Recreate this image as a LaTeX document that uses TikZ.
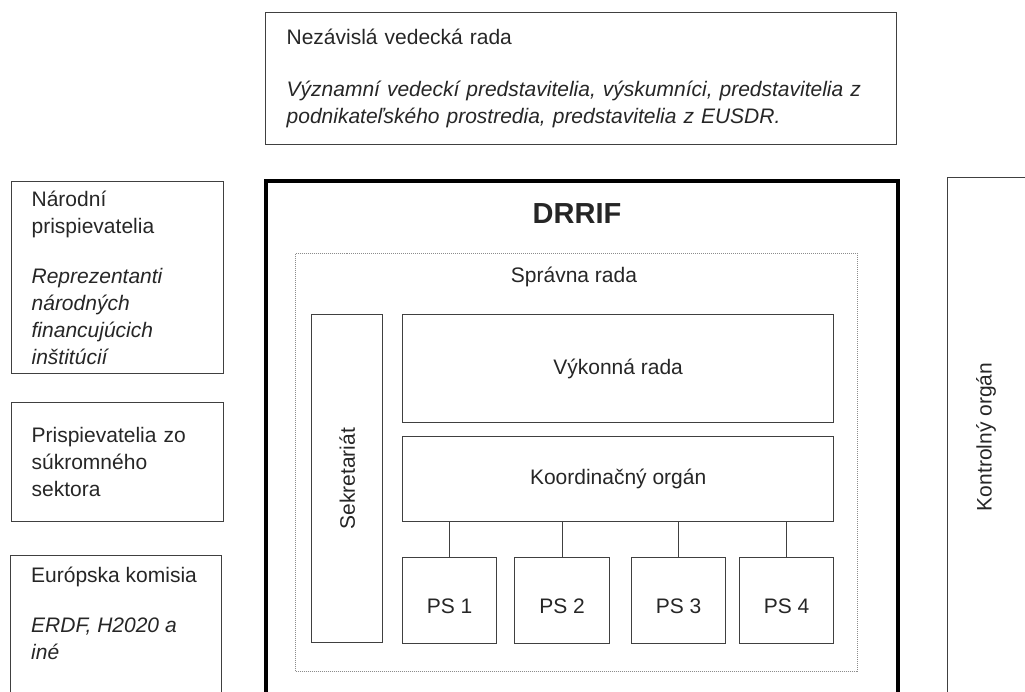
\documentclass[tikz,border=0pt]{standalone}
\usepackage{fontspec}
\setmainfont{Liberation Sans}
\usetikzlibrary{positioning}
\definecolor{ciara}{HTML}{404040}
\definecolor{pismo}{HTML}{262626}
\definecolor{bodky}{HTML}{8C8C8C}
\tikzset{
  every node/.style={
    text=pismo,
    inner sep=0pt,
    font=\fontsize{21}{27}\selectfont
  },
  ram/.style={draw=ciara, line width=1.3pt, anchor=north west},
  lavy/.style={ram, align=left, inner xsep=20pt, text width=172pt},
  stred/.style={ram, align=center},
  ps/.style={stred, minimum height=86pt, text height=25pt, text depth=0pt},
  spoj/.style={draw=ciara, line width=1.3pt}
}

\begin{document}
\begin{tikzpicture}[x=1pt,y=-1pt]
    \useasboundingbox (0,0) rectangle (1025,691);
    \clip (0,0) rectangle (1025,691);

    % vedecká rada
    \node[lavy, text width=589pt, inner xsep=21pt, minimum height=132pt] (rada) at (265,12)
      {Nezávislá vedecká rada\\[25pt]
       \textit{Významní vedeckí predstavitelia, výskumníci, predstavitelia z}\\
       \textit{podnikateľského prostredia, predstavitelia z EUSDR.}};

    % prispievatelia vľavo
    \node[lavy, minimum height=192pt] (narodni) at (11,181)
      {Národní\\prispievatelia\\[23pt]
       \textit{Reprezentanti}\\\textit{národných}\\\textit{financujúcich}\\\textit{inštitúcií}};
    \node[lavy, minimum height=119pt] (sukromni) at (11,402)
      {Prispievatelia zo\\súkromného\\sektora};
    \node[ram, minimum width=211pt, minimum height=160pt] (komisia) at (10,555) {};
    \node[anchor=north west, align=left, below right=12pt and 21pt of komisia.north west] (komisiatext)
      {Európska komisia\\[23pt]\textit{ERDF, H2020 a}\\\textit{iné}};

    % DRRIF
    \node[draw=black, line width=3.5pt, anchor=north west, minimum width=632pt, minimum height=560pt] (drrif) at (264,179) {};
    \node[font=\bfseries\fontsize{29}{34}\selectfont] (drriftitle) at (577,214) {DRRIF};
    \node[draw=bodky, densely dotted, line width=1pt, anchor=north west, minimum width=562pt, minimum height=418pt] (spravna) at (295,253) {};
    \node (spravnatitle) at (574,277) {Správna rada};

    \node[stred, minimum width=71pt, minimum height=328pt] (sekretariat) at (311,314) {\rotatebox{90}{Sekretariát}};
    \node[stred, minimum width=431pt, minimum height=108pt] (vykonna) at (402,314) {Výkonná rada};
    \node[stred, minimum width=431pt, minimum height=85pt] (koord) at (402,436) {Koordinačný orgán};

    % pracovné skupiny
    \node[ps, minimum width=94pt] (ps1) at (402,557) {PS 1};
    \node[ps, minimum width=95pt] (ps2) at (514,557) {PS 2};
    \node[ps, minimum width=94pt] (ps3) at (631,557) {PS 3};
    \node[ps, minimum width=94pt] (ps4) at (739,557) {PS 4};

    \draw[spoj] (koord.south -| ps1.north) -- (ps1.north);
    \draw[spoj] (koord.south -| ps2.north) -- (ps2.north);
    \draw[spoj] (koord.south -| ps3.north) -- (ps3.north);
    \draw[spoj] (koord.south -| ps4.north) -- (ps4.north);

    % kontrolný orgán
    \node[ram, minimum width=100pt, minimum height=560pt] (kontrolny) at (947,177) {};
    \node[rotate=90] (kontrolnytext) at (986,437) {Kontrolný orgán};
\end{tikzpicture}
\end{document}
